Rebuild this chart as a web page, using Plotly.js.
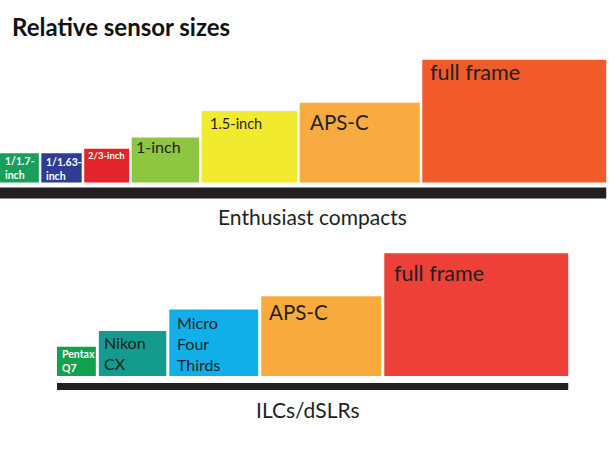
<!DOCTYPE html>
<html>
<head>
<meta charset="utf-8">
<script src="https://cdn.plot.ly/plotly-3.0.1.min.js"></script>
<style>html,body{margin:0;padding:0;background:#fff;}#chart{width:610px;height:458px;}</style>
</head>
<body>
<div id="chart"></div>
<script>
// ---- data (sensor dimensions in mm) ----
const topNames   = ['1/1.7-<br>inch', '1/1.63-<br>inch', '2/3-inch', '1-inch', '1.5-inch', 'APS-C', 'full frame'];
const topWidths  = [7.6, 7.9, 8.8, 13.2, 18.7, 23.5, 36.0];
const topHeights = [5.7, 5.7, 6.6, 8.8, 14.0, 15.6, 24.0];

const botNames   = ['Pentax<br>Q7', 'Nikon<br>CX', 'Micro<br>Four<br>Thirds', 'APS-C', 'full frame'];
const botWidths  = [7.6, 13.2, 17.4, 23.5, 36.0];
const botHeights = [5.7, 8.8, 13.0, 15.6, 24.0];

const groupLabels = ['Enthusiast compacts', 'ILCs/dSLRs'];
const titleText = 'Relative sensor sizes';

// ---- styles ----
const W = 610, H = 458;
const PX = 5.11;               // pixels per mm
const FONT = 'Lato, "Open Sans", sans-serif';
const DARK = '#231f20';
const WHITE = '#ffffff';

const topColors = ['#199e5b', '#2e3d92', '#e3232e', '#8dc641', '#f2ea2e', '#f9ab41', '#f15a2b'];
const botColors = ['#13a04f', '#139b8e', '#10afe9', '#f8aa3f', '#ec4039'];

const topLabelStyle = [
  {size: 10.5, color: WHITE, bold: true, dx: 4,   dy: 3},
  {size: 10.5, color: WHITE, bold: true, dx: 4,   dy: 4},
  {size: 9.5,  color: WHITE, bold: true, dx: 3,   dy: 2.5},
  {size: 16,   color: DARK,  dx: 3,   dy: 3},
  {size: 14.5, color: DARK,  dx: 7.5, dy: 6.5},
  {size: 20.5, color: DARK,  dx: 9,   dy: 11.5},
  {size: 21.5, color: DARK,  dx: 7,   dy: 3.5}
];
const botLabelStyle = [
  {size: 10.5, color: WHITE, bold: true, dx: 4, dy: 3},
  {size: 16,   color: DARK,  dx: 4,   dy: 5.5},
  {size: 16,   color: DARK,  dx: 7,   dy: 6.5},
  {size: 20.5, color: DARK,  dx: 7,   dy: 8.5},
  {size: 21.5, color: DARK,  dx: 9,   dy: 11}
];

const rows = [
  {names: topNames, widths: topWidths, heights: topHeights, colors: topColors, styles: topLabelStyle,
   startPx: 0, gapPx: 2.5, baselinePx: 182.5, barGapPx: 5, barThickPx: 11, labelXPx: 312, labelYPx: 216},
  {names: botNames, widths: botWidths, heights: botHeights, colors: botColors, styles: botLabelStyle,
   startPx: 57, gapPx: 3, baselinePx: 376, barGapPx: 7, barThickPx: 7, labelXPx: 308, labelYPx: 409}
];

const pxToX = p => p / PX;
const pxToY = p => (H - p) / PX;

const traces = [];
const shapes = [];
const annotations = [];

rows.forEach((r, ri) => {
  const base = pxToY(r.baselinePx);
  const gap = r.gapPx / PX;
  let cursor = pxToX(r.startPx);
  const lefts = [], centers = [];
  r.widths.forEach(w => { lefts.push(cursor); centers.push(cursor + w / 2); cursor += w + gap; });
  const rowStart = lefts[0];
  const rowEnd = lefts[lefts.length - 1] + r.widths[r.widths.length - 1];

  traces.push({
    type: 'bar',
    x: centers,
    y: r.heights,
    base: r.heights.map(() => base),
    width: r.widths,
    marker: {color: r.colors, line: {width: 0}},
    hoverinfo: 'skip',
    showlegend: false
  });

  // black base bar under each row
  const y1 = base - r.barGapPx / PX;
  shapes.push({
    type: 'rect', xref: 'x', yref: 'y', layer: 'above',
    x0: rowStart, x1: rowEnd, y0: y1 - r.barThickPx / PX, y1: y1,
    fillcolor: DARK, line: {width: 0}
  });

  // labels inside boxes
  r.names.forEach((n, i) => {
    const s = r.styles[i];
    annotations.push({
      xref: 'x', yref: 'y',
      x: lefts[i], y: base + r.heights[i],
      xanchor: 'left', yanchor: 'top', align: 'left',
      xshift: s.dx, yshift: -(s.dy - 0.27 * s.size),
      borderpad: 0, showarrow: false,
      text: n,
      font: {family: FONT, size: s.size, color: s.color, weight: s.bold ? 'bold' : 'normal'}
    });
  });

  // group caption
  annotations.push({
    xref: 'paper', yref: 'paper',
    x: r.labelXPx / W, y: 1 - r.labelYPx / H,
    xanchor: 'center', yanchor: 'middle', showarrow: false, borderpad: 0,
    text: groupLabels[ri],
    font: {family: FONT, size: 21, color: DARK}
  });
});

const layout = {
  width: W, height: H,
  margin: {l: 0, r: 0, t: 0, b: 0, pad: 0},
  paper_bgcolor: '#ffffff', plot_bgcolor: '#ffffff',
  barmode: 'overlay',
  showlegend: false,
  title: {
    text: titleText,
    xref: 'container', yref: 'container',
    x: 12 / W, xanchor: 'left',
    y: 1 - 28 / H, yanchor: 'middle',
    font: {family: FONT, size: 24, weight: 'bold', color: '#111111'}
  },
  xaxis: {range: [0, W / PX], visible: false, fixedrange: true},
  yaxis: {range: [0, H / PX], visible: false, fixedrange: true},
  shapes: shapes,
  annotations: annotations
};

Plotly.newPlot('chart', traces, layout, {displayModeBar: false, staticPlot: true});
</script>
</body>
</html>
